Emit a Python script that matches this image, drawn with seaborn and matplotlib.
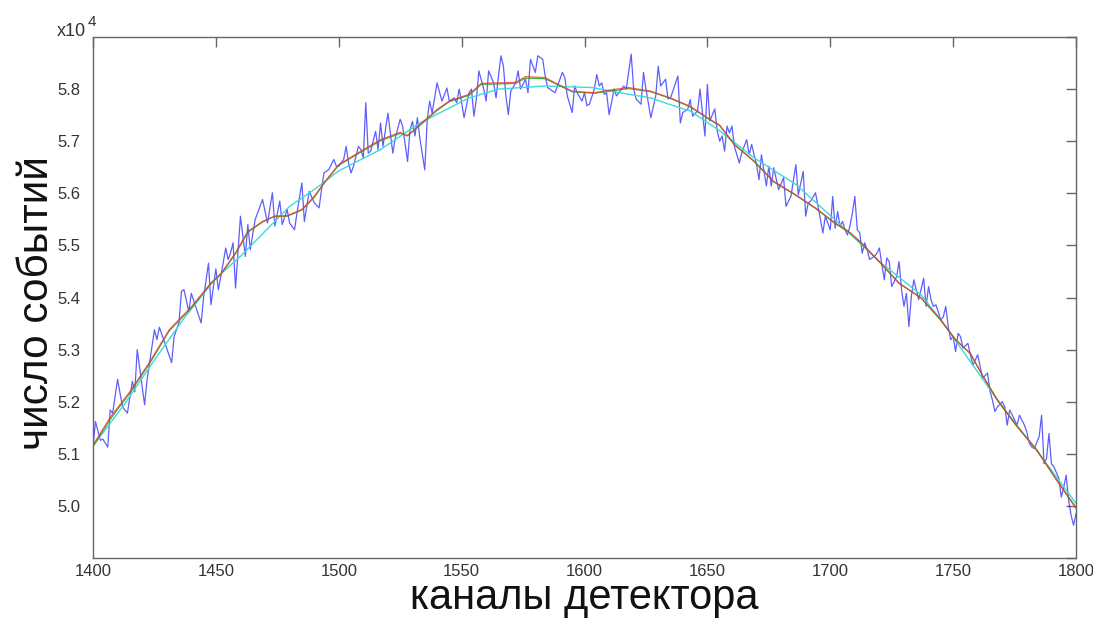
import matplotlib
matplotlib.use("Agg")
import matplotlib.pyplot as plt
import seaborn as sns
import pandas as pd
from matplotlib.ticker import FuncFormatter, MultipleLocator

# ---------------- data ----------------
blue_ch = [1400,1401,1403,1404,1406,1407,1408,1410,1412,1414,1416,1417,1418,1421,1422,1425,1426,1427,1432,1433,
           1435,1436,1437,1439,1440,1444,1445,1447,1448,1450,1451,1452,1454,1455,1456,1457,1458,1459,1460,1462,
           1463,1464,1466,1469,1471,1473,1474,1476,1477,1479,1480,1482,1483,1485,1486,1488,1490,1492,1493,1494,
           1496,1498,1499,1500,1502,1503,1504,1505,1506,1508,1509,1510,1511,1512,1513,1515,1516,1517,1518,1520,
           1522,1523,1525,1526,1528,1529,1530,1531,1532,1533,1535,1536,1537,1538,1540,1542,1544,1545,1547,1548,
           1549,1550,1551,1553,1554,1555,1556,1557,1559,1560,1561,1563,1564,1565,1566,1567,1568,1569,1570,1572,
           1573,1574,1576,1577,1578,1580,1581,1583,1584,1585,1587,1588,1589,1591,1592,1593,1595,1596,1597,1599,
           1600,1601,1602,1604,1605,1606,1607,1608,1609,1610,1611,1612,1613,1614,1616,1617,1619,1620,1621,1623,
           1624,1625,1627,1629,1630,1631,1633,1634,1635,1638,1639,1640,1642,1643,1644,1646,1647,1649,1650,1651,
           1653,1654,1655,1656,1657,1658,1659,1660,1661,1663,1664,1666,1667,1668,1670,1671,1672,1674,1675,1676,
           1677,1679,1681,1682,1684,1686,1687,1689,1690,1691,1692,1694,1696,1697,1698,1700,1701,1702,1703,1704,
           1705,1706,1707,1708,1709,1710,1711,1712,1713,1714,1715,1716,1718,1719,1720,1721,1722,1723,1724,1725,
           1727,1728,1729,1730,1731,1732,1733,1734,1735,1736,1738,1739,1740,1741,1742,1743,1745,1746,1747,1748,
           1749,1750,1751,1752,1753,1754,1756,1758,1760,1762,1764,1765,1766,1767,1768,1770,1771,1772,1773,1774,
           1775,1776,1777,1779,1780,1781,1782,1783,1785,1786,1787,1788,1789,1790,1791,1793,1794,1795,1796,1797,
           1798,1799,1800]
blue_counts = [51130,51620,51260,51280,51130,51840,51780,52430,51900,51780,52390,52190,53000,51940,52420,53380,53190,53430,52750,53250,
               53520,54120,54150,53730,54080,53510,54000,54660,53860,54550,54150,54400,54950,54730,54860,55050,54180,54860,55560,54790,
               55400,54920,55500,55880,55430,56010,55370,55850,55400,55690,55430,55300,55620,56200,55460,56040,55820,55720,56070,56390,
               56460,56650,56520,56520,56650,56900,56580,56390,56520,56900,56840,56680,57740,56770,56810,57190,56840,57350,56900,57540,
               56770,57060,57420,57290,56610,57220,57380,57100,57450,57060,56450,57410,57770,57540,58120,57770,58020,57770,57830,57740,
               58000,57740,57450,57930,58000,57480,57810,58350,58000,57770,58350,58120,57830,58250,58640,58440,57870,57510,57960,58120,
               58350,58000,58190,57930,58570,58320,58640,58570,58250,58030,57960,57930,58060,58320,58220,57870,57550,58060,57930,57770,
               57930,57680,57710,58000,58280,58060,58120,57900,57930,57510,57740,58000,57870,57930,58060,58000,58670,58000,57810,57710,
               58320,58000,57450,57870,58440,58060,58190,57810,57830,58250,57350,57550,57610,57800,57480,57580,58000,57100,58090,57390,
               57620,57200,57000,57100,56810,57290,57160,57290,56900,56580,56780,57030,56740,56940,56550,56260,56740,56140,56520,56140,
               56490,56070,56300,55750,55940,56550,55970,56420,55560,55810,55850,56010,55500,55240,55560,55300,55940,55330,55650,55370,
               55460,55300,55200,55370,55620,55940,55300,55240,54850,55050,54920,54730,54790,54850,54950,54630,54340,54760,54690,54210,
               54400,54690,54150,53830,54080,53440,54020,54340,54150,53960,54370,53830,54210,53960,53830,53860,53570,53630,53830,53440,
               53190,53250,52960,53310,53250,53030,53120,52700,52900,52450,52550,52200,52030,51810,51900,52000,51900,51550,51840,51750,
               51650,51550,51740,51550,51420,51200,51130,51100,51330,51740,50810,50910,51390,50810,50750,50530,50170,50360,50590,50110,
               49820,49630,49850]

red_ch = [1400,1407,1415,1423,1431,1440,1448,1452,1458,1463,1469,1474,1479,1485,1490,1494,1500,1509,1517,1525,
          1528,1533,1540,1545,1553,1558,1565,1572,1576,1584,1588,1595,1604,1610,1618,1627,1635,1643,1651,1655,
          1661,1669,1677,1686,1694,1702,1708,1712,1720,1728,1737,1745,1751,1757,1762,1768,1776,1784,1792,1800]
red_counts = [51170,51700,52190,52760,53380,53820,54280,54450,54860,55270,55460,55560,55570,55690,55940,56200,56550,56810,57030,57170,
              57100,57320,57610,57770,57900,58110,58120,58130,58240,58220,58120,57960,57930,57980,58030,57960,57830,57670,57420,57310,
              56940,56620,56230,55970,55720,55430,55250,55080,54690,54280,53990,53570,53190,52930,52500,52030,51520,51070,50500,49950]

green_ch = [1400,1407,1415,1423,1431,1440,1448,1452,1458,1463,1469,1474,1479,1485,1490,1494,1500,1509,1517,1525,
            1528,1533,1540,1545,1553,1558,1565,1572,1576,1584,1588,1595,1604,1610,1618,1627,1635,1643,1651,1655,
            1661,1669,1677,1686,1694,1702,1708,1712,1720,1728,1737,1745,1751,1757,1762,1768,1776,1784,1792,1800]
green_counts = [51140,51660,52170,52730,53360,53800,54270,54440,54840,55250,55450,55560,55560,55680,55920,56190,56540,56790,57010,57150,
                57110,57300,57590,57760,57880,58090,58100,58110,58210,58200,58110,57950,57920,57960,58010,57950,57820,57660,57410,57300,
                56930,56610,56220,55960,55710,55420,55240,55070,54680,54270,53990,53560,53190,52920,52500,52040,51530,51080,50510,49970]

cyan_ch = [1400,1412,1425,1437,1450,1460,1470,1480,1490,1500,1517,1533,1553,1565,1584,1603,1618,1627,1635,1643,
           1655,1669,1686,1702,1720,1737,1745,1757,1770,1785,1800]
cyan_counts = [51150,51900,52800,53600,54370,54790,55270,55750,56070,56430,56840,57350,57830,58000,58060,58030,57900,57830,57700,57580,
               57200,56680,56170,55490,54690,54050,53570,52770,51900,51000,50050]

x_ticks = [1400, 1450, 1500, 1550, 1600, 1650, 1700, 1750, 1800]
xlabel_text = "каналы детектора"
ylabel_text = "число событий"

# ---------------- plot ----------------
sns.set_style("white")
plt.rcParams['font.family'] = ['Liberation Sans', 'DejaVu Sans']

W, H = 1093, 619
fig = plt.figure(figsize=(W / 100, H / 100), dpi=100)
ax = fig.add_axes([93 / W, 1 - 558 / H, (1076 - 93) / W, (558 - 37) / H])

df_blue = pd.DataFrame({"ch": blue_ch, "n": blue_counts})
df_red = pd.DataFrame({"ch": red_ch, "n": red_counts})
df_green = pd.DataFrame({"ch": green_ch, "n": green_counts})
df_cyan = pd.DataFrame({"ch": cyan_ch, "n": cyan_counts})

sns.lineplot(data=df_blue, x="ch", y="n", ax=ax, color="#1a1aff", lw=0.9, alpha=0.7)
sns.lineplot(data=df_cyan, x="ch", y="n", ax=ax, color="#3fd9d9", lw=1.0)
sns.lineplot(data=df_green, x="ch", y="n", ax=ax, color="#22aa22", lw=0.9, alpha=0.9)
sns.lineplot(data=df_red, x="ch", y="n", ax=ax, color="#ff2a2a", lw=0.9, alpha=0.75)

ax.set_xlim(1400, 1800)
ax.set_ylim(49000, 59000)
ax.set_xticks(x_ticks)
ax.yaxis.set_major_locator(MultipleLocator(1000))
ax.yaxis.set_major_formatter(FuncFormatter(lambda v, p: f"{v / 1e4:.1f}" if 49500 < v < 58500 else ""))

for s in ax.spines.values():
    s.set_color("#666666")
    s.set_linewidth(1.0)
ax.tick_params(direction="in", top=True, right=True, length=7, width=1, color="#666666",
               labelsize=12, labelcolor="#333333")
ax.tick_params(axis="y", pad=9)
ax.tick_params(axis="x", pad=4)

ax.set_xlabel("")
ax.set_ylabel("")
fig.text(584 / W, 1 - 598 / H, xlabel_text, ha="center", va="center", fontsize=30, color="#111111")
fig.text(37 / W, 1 - 303 / H, ylabel_text, ha="center", va="center", rotation=90, fontsize=30.5, color="#111111")
fig.text(57 / W, 1 - 36 / H, "x10", ha="left", va="baseline", fontsize=13, color="#333333")
fig.text(88 / W, 1 - 26 / H, "4", ha="left", va="baseline", fontsize=11, color="#333333")

fig.savefig("out.png", dpi=100, facecolor="white")
